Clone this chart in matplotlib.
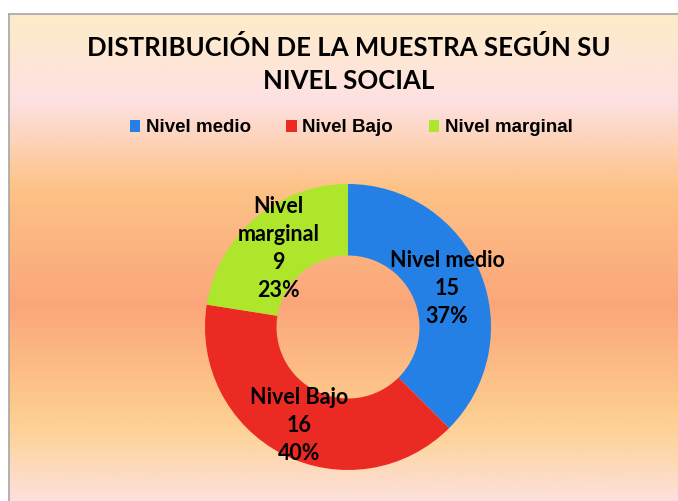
import numpy as np
import matplotlib.pyplot as plt
from matplotlib.colors import LinearSegmentedColormap

# data
categories = ["Nivel medio", "Nivel Bajo", "Nivel marginal"]
values = [15, 16, 9]
pct_labels = ["37%", "40%", "23%"]
colors = ["#2580e6", "#ec2a24", "#aee62c"]

W, H = 678, 501
fig = plt.figure(figsize=(W / 100, H / 100), dpi=100)
fig.patch.set_facecolor("white")

# gradient background of the chart area (left/top border, cut at right/bottom)
x0, y0 = 8.5 / W, 0
bg = fig.add_axes([x0, y0, 1 - x0, 1 - 13.5 / H])
stops = [(0.0, "#fdecc8"), (0.18, "#fde1e2"), (0.36, "#fdc286"),
         (0.6, "#fba67a"), (0.8, "#fdc98b"), (0.87, "#fdd49c"), (1.0, "#fde0dc")]
cmap = LinearSegmentedColormap.from_list("bg", stops)
bg.imshow(np.linspace(0, 1, 256).reshape(-1, 1), aspect="auto", cmap=cmap,
          extent=[0, 1, 0, 1], origin="upper")
bg.set_xlim(0, 1)
bg.set_ylim(0, 1)
bg.set_xticks([])
bg.set_yticks([])
for side in ["right", "bottom"]:
    bg.spines[side].set_visible(False)
for side in ["left", "top"]:
    bg.spines[side].set_color("#a6a6a6")
    bg.spines[side].set_linewidth(1.2)

# title
fig.text(349 / W, 1 - 47 / H, "DISTRIBUCIÓN DE LA MUESTRA SEGÚN SU", ha="center", va="center",
         fontsize=18.5, fontweight="bold", family="Lato")
fig.text(349 / W, 1 - 81 / H, "NIVEL SOCIAL", ha="center", va="center",
         fontsize=18.5, fontweight="bold", family="Lato")

# donut
cx, cy, r = 348, 327, 143
ax = fig.add_axes([(cx - r) / W, 1 - (cy + r) / H, 2 * r / W, 2 * r / H])
ax.set_facecolor("none")
wedges, _ = ax.pie(values, colors=colors, startangle=90, counterclock=False,
                   radius=1.0, wedgeprops=dict(width=0.5, edgecolor="none"))
ax.set_xlim(-1, 1)
ax.set_ylim(-1, 1)
ax.set_aspect("equal")
ax.axis("off")

label_text = ["Nivel medio", "Nivel Bajo", "Nivel\nmarginal"]
total = sum(values)
ang = 90.0
for txt, v, p in zip(label_text, values, pct_labels):
    mid = np.deg2rad(ang - 360 * v / total / 2)
    ang -= 360 * v / total
    ax.text(0.75 * np.cos(mid), 0.75 * np.sin(mid) - 0.02, f"{txt}\n{v}\n{p}",
            ha="center", va="center", fontsize=15.5, fontweight="bold", family="Lato",
            linespacing=1.42, clip_on=False)

# legend
leg = fig.legend(wedges, categories, loc="center", bbox_to_anchor=(351 / W, 1 - 128 / H),
                 ncol=3, frameon=False, handlelength=0.55, handleheight=0.55,
                 handletextpad=0.3, columnspacing=1.9,
                 prop=dict(family="Liberation Sans", weight="bold", size=13.5))

fig.savefig("out.png", dpi=100)
